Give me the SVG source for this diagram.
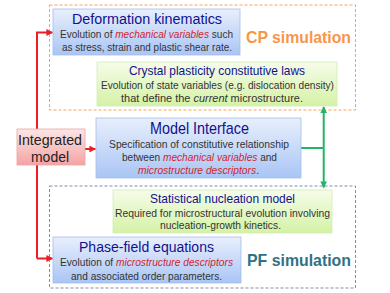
<svg xmlns="http://www.w3.org/2000/svg" width="390" height="293" viewBox="0 0 390 293">
<defs>
<linearGradient id="gBlue" x1="0" y1="0" x2="0" y2="1"><stop offset="0" stop-color="#e8effc"/><stop offset="1" stop-color="#a9c5f5"/></linearGradient>
<linearGradient id="gGreen" x1="0" y1="0" x2="0" y2="1"><stop offset="0" stop-color="#f5fce9"/><stop offset="1" stop-color="#d5f2a6"/></linearGradient>
<linearGradient id="gRed" x1="0" y1="0" x2="0" y2="1"><stop offset="0" stop-color="#fde6e6"/><stop offset="1" stop-color="#f4a3a3"/></linearGradient>
<marker id="aRed" viewBox="0 0 10 10" refX="9" refY="5" markerWidth="3.4" markerHeight="3.4" orient="auto"><path d="M0,0 L10,5 L0,10 z" fill="#ee1c24"/></marker>
<marker id="aGreen" viewBox="0 0 10 10" refX="9" refY="5" markerWidth="3.4" markerHeight="3.4" orient="auto"><path d="M0,0 L10,5 L0,10 z" fill="#22b567"/></marker>
</defs>
<style>
.title{font-family:"Liberation Sans",Arial,sans-serif;fill:#12128f;text-anchor:start}
.body{font-family:"Liberation Sans",Arial,sans-serif;font-size:10.3px;fill:#333;text-anchor:start}
.em{fill:#d21f2d;font-style:italic}
.it{font-style:italic}
.blue{fill:url(#gBlue);stroke:#a6bfea;stroke-width:0.8}
.green{fill:url(#gGreen);stroke:#d3ebb5;stroke-width:0.8}
.red{fill:url(#gRed);stroke:#eaa5a5;stroke-width:0.8}
.lbl{font-family:"Liberation Sans",Arial,sans-serif;font-weight:bold;font-size:16.5px}
.dark{fill:#222}
</style>
<g id="cp-region">
<rect x="49.5" y="5" width="306" height="105" fill="none" stroke="#f7a35c" stroke-width="1" stroke-dasharray="3,2"/>
<text class="lbl" x="246" y="43" fill="#f7964a" textLength="105" lengthAdjust="spacingAndGlyphs">CP simulation</text>
</g>
<g id="pf-region">
<rect x="49.5" y="186" width="306" height="102" fill="none" stroke="#7f8ea8" stroke-width="1" stroke-dasharray="3,2"/>
<text class="lbl" x="247" y="266" fill="#2f7285" textLength="104" lengthAdjust="spacingAndGlyphs">PF simulation</text>
</g>
<g id="connectors">
<path d="M37,258.5 V32.5 H52.5" fill="none" stroke="#ee1c24" stroke-width="2" marker-end="url(#aRed)"/>
<path d="M37,258.5 H52.5" fill="none" stroke="#ee1c24" stroke-width="2" marker-end="url(#aRed)"/>
<path d="M85,149 H95.5" fill="none" stroke="#ee1c24" stroke-width="2" marker-end="url(#aRed)"/>
<path d="M301,148 H323.7" fill="none" stroke="#22b567" stroke-width="2"/>
<path d="M323.7,148 V107" fill="none" stroke="#22b567" stroke-width="2" marker-end="url(#aGreen)"/>
<path d="M323.7,148 V187.5" fill="none" stroke="#22b567" stroke-width="2" marker-end="url(#aGreen)"/>
</g>
<g id="deformation">
<rect class="blue" x="53" y="9" width="187" height="46"/>
<text class="title" x="72" y="24" font-size="15.5" textLength="150" lengthAdjust="spacingAndGlyphs">Deformation kinematics</text>
<text class="body" x="60" y="37.5" textLength="173" lengthAdjust="spacingAndGlyphs">Evolution of <tspan class="em">mechanical variables</tspan> such</text>
<text class="body" x="62" y="50.5" textLength="170" lengthAdjust="spacingAndGlyphs">as stress, strain and plastic shear rate.</text>
</g>
<g id="crystal">
<rect class="green" x="97" y="62" width="240" height="44"/>
<text class="title" x="129" y="75" font-size="13" textLength="176" lengthAdjust="spacingAndGlyphs">Crystal plasticity constitutive laws</text>
<text class="body" x="101" y="88.5" textLength="233" lengthAdjust="spacingAndGlyphs">Evolution of state variables (e.g. dislocation density)</text>
<text class="body" x="121" y="101.5" textLength="182" lengthAdjust="spacingAndGlyphs">that define the <tspan class="it">current</tspan> microstructure.</text>
</g>
<g id="integrated">
<rect class="red" x="17" y="129" width="68" height="36"/>
<text class="title dark" x="18" y="145" font-size="15.5" textLength="64" lengthAdjust="spacingAndGlyphs">Integrated</text>
<text class="title dark" x="31" y="162" font-size="15.5" textLength="38" lengthAdjust="spacingAndGlyphs">model</text>
</g>
<g id="interface">
<rect class="blue" x="96" y="118" width="205" height="60"/>
<text class="title" x="150" y="134" font-size="17" textLength="99" lengthAdjust="spacingAndGlyphs">Model Interface</text>
<text class="body" x="109" y="147.5" textLength="180" lengthAdjust="spacingAndGlyphs">Specification of constitutive relationship</text>
<text class="body" x="122" y="160.5" textLength="155" lengthAdjust="spacingAndGlyphs">between <tspan class="em">mechanical variables</tspan> and</text>
<text class="body" x="138" y="174" textLength="121" lengthAdjust="spacingAndGlyphs"><tspan class="em">microstructure descriptors</tspan>.</text>
</g>
<g id="nucleation">
<rect class="green" x="113" y="190" width="219" height="43"/>
<text class="title" x="150" y="202.5" font-size="13" textLength="145" lengthAdjust="spacingAndGlyphs">Statistical nucleation model</text>
<text class="body" x="115" y="216.5" textLength="215" lengthAdjust="spacingAndGlyphs">Required for microstructural evolution involving</text>
<text class="body" x="160" y="229" textLength="121" lengthAdjust="spacingAndGlyphs">nucleation-growth kinetics.</text>
</g>
<g id="phasefield">
<rect class="blue" x="53" y="237" width="188" height="46"/>
<text class="title" x="79" y="252" font-size="15.5" textLength="135" lengthAdjust="spacingAndGlyphs">Phase-field equations</text>
<text class="body" x="60" y="266" textLength="173" lengthAdjust="spacingAndGlyphs">Evolution of <tspan class="em">microstructure descriptors</tspan></text>
<text class="body" x="71" y="279.5" textLength="151" lengthAdjust="spacingAndGlyphs">and associated order parameters.</text>
</g>
</svg>
